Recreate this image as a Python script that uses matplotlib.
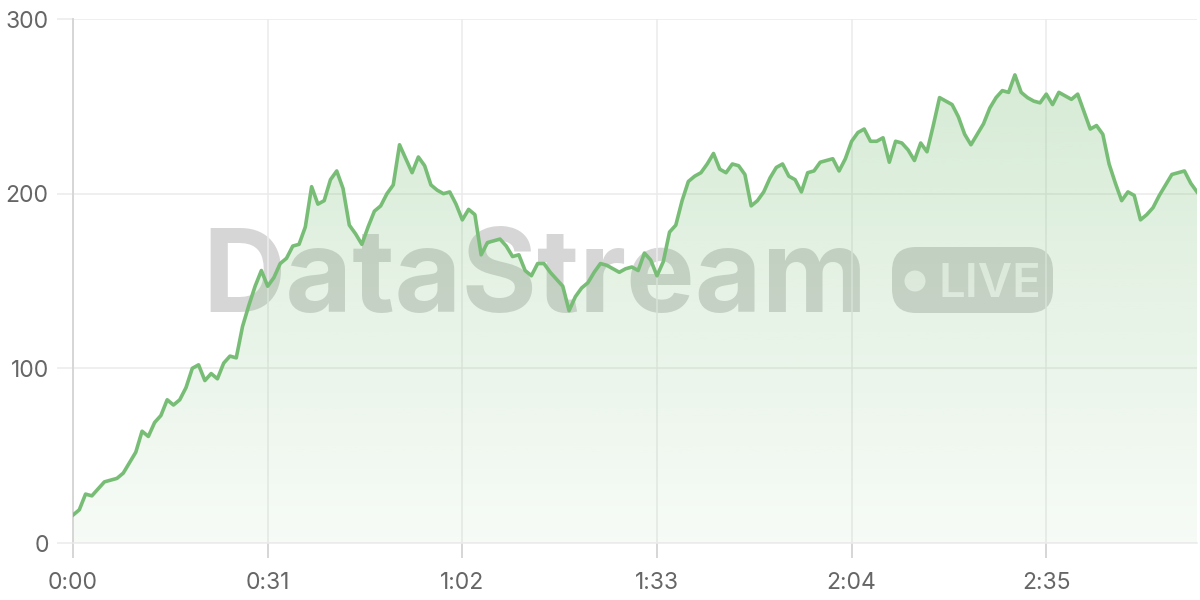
import numpy as np
import matplotlib.pyplot as plt
from matplotlib.patches import FancyBboxPatch, Circle
from matplotlib.colors import to_rgb

# one value per second, 0:00 .. 2:59
values = [
    16, 19, 28, 27, 31, 35, 36, 37, 40, 46,
    52, 64, 61, 69, 73, 82, 79, 82, 89, 100,
    102, 93, 97, 94, 103, 107, 106, 124, 136, 147,
    156, 147, 152, 160, 163, 170, 171, 181, 204, 194,
    196, 208, 213, 203, 182, 177, 171, 181, 190, 193,
    200, 205, 228, 220, 212, 221, 216, 205, 202, 200,
    201, 194, 185, 191, 188, 165, 172, 173, 174, 170,
    164, 165, 156, 153, 160, 160, 155, 151, 147, 133,
    141, 146, 149, 155, 160, 159, 157, 155, 157, 158,
    156, 166, 162, 153, 161, 178, 182, 196, 207, 210,
    212, 217, 223, 214, 212, 217, 216, 211, 193, 196,
    201, 209, 215, 217, 210, 208, 201, 212, 213, 218,
    219, 220, 213, 220, 230, 235, 237, 230, 230, 232,
    218, 230, 229, 225, 219, 229, 224, 239, 255, 253,
    251, 244, 234, 228, 234, 240, 249, 255, 259, 258,
    268, 258, 255, 253, 252, 257, 251, 258, 256, 254,
    257, 247, 237, 239, 234, 217, 206, 196, 201, 199,
    185, 188, 192, 199, 205, 211, 212, 213, 206, 201,
]
seconds = np.arange(len(values))
x_ticks = [0, 31, 62, 93, 124, 155]
x_labels = ["0:00", "0:31", "1:02", "1:33", "2:04", "2:35"]
y_ticks = [0, 100, 200, 300]

green = "#78bd76"
grid_c = "#ebebeb"
axis_c = "#d6d6d6"
text_c = "#666666"

plt.rcParams["font.family"] = ["Inter", "DejaVu Sans"]

fig = plt.figure(figsize=(12, 6), dpi=100)

# watermark sits behind the chart, in pixel coordinates
bg = fig.add_axes([0, 0, 1, 1], zorder=0)
bg.set_xlim(0, 1200)
bg.set_ylim(600, 0)
bg.axis("off")
bg.text(535, 312, "DataStream", fontsize=83, fontweight="bold",
        color="black", alpha=0.16, ha="center", va="baseline")
bg.add_patch(FancyBboxPatch((892, 247), 161, 66,
                            boxstyle="round,pad=0,rounding_size=24",
                            facecolor="black", alpha=0.16, lw=0))
bg.add_patch(Circle((915, 281), 10.5, facecolor="white", alpha=0.75, lw=0))
bg.text(938, 297, "LIVE", fontsize=34, fontweight="semibold",
        color="white", alpha=0.75, ha="left", va="baseline")

ax = fig.add_axes([73 / 1200, 57 / 600, 1124 / 1200, 524 / 600], zorder=1)
ax.patch.set_alpha(0)

# gradient fill under the line
fill = ax.fill_between(seconds, values, 0, color="none", lw=0)
grad = np.zeros((256, 1, 4))
grad[:, 0, :3] = to_rgb(green)
grad[:, 0, 3] = np.linspace(0.06, 0.33, 256)
img = ax.imshow(grad, extent=[0, len(values) - 1, 0, 300], origin="lower",
                aspect="auto", zorder=1)
img.set_clip_path(fill.get_paths()[0], transform=ax.transData)

ax.plot(seconds, values, color=green, lw=2.6, zorder=4)

ax.set_xlim(0, len(values) - 1)
ax.set_ylim(0, 300)
ax.set_xticks(x_ticks)
ax.set_xticklabels(x_labels)
ax.set_yticks(y_ticks)
ax.grid(True, color=grid_c, lw=1.1, zorder=0)
ax.set_axisbelow(True)
for s in ["top", "right"]:
    ax.spines[s].set_visible(False)
ax.spines["left"].set_color(axis_c)
ax.spines["left"].set_linewidth(1.4)
ax.spines["bottom"].set_color(grid_c)
ax.spines["bottom"].set_linewidth(1.1)
ax.tick_params(axis="y", length=11.5, width=1.1, color=grid_c, pad=6,
               labelsize=16.5, labelcolor=text_c)
ax.tick_params(axis="x", length=11, width=1.4, color=axis_c, pad=10,
               labelsize=16.5, labelcolor=text_c)

fig.savefig("out.png", dpi=100)
